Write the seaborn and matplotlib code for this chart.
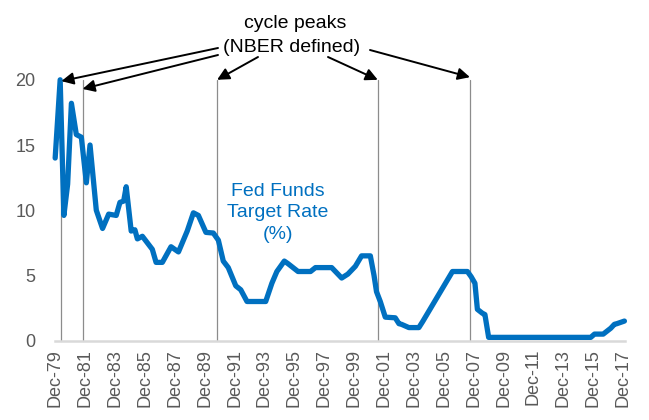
import numpy as np
import pandas as pd
import matplotlib
matplotlib.use('Agg')
import matplotlib.pyplot as plt
import matplotlib.dates as mdates
import seaborn as sns

sns.set_style('white')
plt.rcParams['font.family'] = ['Liberation Sans Narrow', 'Liberation Sans', 'DejaVu Sans']

# Fed funds target rate
fechas = ['1979-12', '1980-04', '1980-07', '1980-10', '1981-01', '1981-05', '1981-09',
          '1982-01', '1982-04', '1982-09', '1983-02', '1983-07', '1984-01', '1984-04',
          '1984-07', '1984-09', '1985-01', '1985-04', '1985-06', '1985-10', '1986-06',
          '1986-09', '1987-02', '1987-09', '1988-03', '1988-10', '1989-03', '1989-07',
          '1990-01', '1990-07', '1990-11', '1991-03', '1991-07', '1992-01', '1992-05',
          '1992-10', '1994-01', '1994-06', '1994-10', '1995-04', '1995-07', '1996-03',
          '1997-01', '1997-05', '1998-06', '1998-09', '1999-02', '1999-07', '2000-01',
          '2000-06', '2001-01', '2001-04', '2001-06', '2001-09', '2002-01', '2002-09',
          '2002-12', '2003-02', '2003-08', '2004-04', '2004-07', '2006-07', '2007-07',
          '2007-10', '2008-01', '2008-03', '2008-07', '2008-09', '2008-12', '2015-10',
          '2016-01', '2016-08', '2017-02', '2017-05', '2017-07', '2018-01']
tasa = [14.0, 20.0, 9.6, 12.0, 18.2, 15.8, 15.6,
        12.1, 15.0, 10.0, 8.6, 9.7, 9.6, 10.6,
        10.7, 11.8, 8.4, 8.5, 7.8, 8.0, 7.0,
        6.0, 6.0, 7.2, 6.8, 8.4, 9.8, 9.6,
        8.3, 8.25, 7.7, 6.1, 5.6, 4.2, 3.9,
        3.0, 3.0, 4.4, 5.3, 6.1, 5.9, 5.3,
        5.3, 5.6, 5.6, 5.3, 4.8, 5.1, 5.7,
        6.5, 6.5, 5.0, 3.75, 3.0, 1.8, 1.75,
        1.3, 1.25, 1.0, 1.0, 1.45, 5.3, 5.3,
        4.9, 4.4, 2.4, 2.1, 2.0, 0.25, 0.25,
        0.5, 0.5, 0.95, 1.25, 1.3, 1.5]

# cycle peak markers, as placed on the chart
picos = ['1980-05', '1981-10', '1990-10', '2001-07', '2007-09']

# x tick labels every two years
marcas = pd.date_range('1979-12-01', '2017-12-01', freq='24MS')

df = pd.DataFrame({'fecha': pd.to_datetime(fechas), 'tasa': tasa})
picos = pd.to_datetime(picos)

azul = '#0070C0'
gris = '#595959'

fig = plt.figure(figsize=(6.49, 4.2), dpi=100)
ax = fig.add_axes([0.085, 0.189, 0.878, 0.621])

for p in picos:
    ax.plot([p, p], [0, 20], color='#8C8C8C', lw=0.9, zorder=1, clip_on=False)

sns.lineplot(data=df, x='fecha', y='tasa', ax=ax, color=azul, lw=3.8, zorder=3)
ax.lines[-1].set_clip_on(False)

ax.set_xlim(pd.Timestamp('1979-12-01'), pd.Timestamp('2018-01-15'))
ax.set_ylim(0, 20)
ax.set_yticks([0, 5, 10, 15, 20])
ax.set_xticks(marcas)
ax.xaxis.set_major_formatter(mdates.DateFormatter('%b-%y'))
ax.tick_params(axis='x', rotation=90, labelsize=13, colors=gris, length=0, pad=6)
ax.tick_params(axis='y', labelsize=13, colors=gris, length=0, pad=14)
ax.set_xlabel('')
ax.set_ylabel('')
sns.despine(ax=ax, left=True)
ax.spines['bottom'].set_color('#D9D9D9')
ax.spines['bottom'].set_linewidth(1.8)

fig.text(0.428, 0.493, 'Fed Funds\nTarget Rate\n(%)', ha='center', va='center',
         color=azul, fontsize=14, linespacing=1.35)

fig.text(0.455, 0.945, 'cycle peaks', ha='center', va='center', fontsize=14, color='black')
fig.text(0.45, 0.887, '(NBER defined)', ha='center', va='center', fontsize=14, color='black')

flecha = dict(arrowstyle='-|>', color='black', lw=1.4, mutation_scale=18, shrinkA=0, shrinkB=0)
colas = [(218, 48), (218, 55), (258, 57), (328, 57), (370, 50)]
puntas = [(picos[0], 19.9), (picos[1], 19.3), (picos[2], 20.0), (picos[3], 20.0), (picos[4], 20.2)]
for (cx, cy), (px, py) in zip(colas, puntas):
    ax.annotate('', xy=(px, py), xycoords='data',
                xytext=(cx, 420 - cy), textcoords='figure pixels',
                arrowprops=flecha, annotation_clip=False)

fig.savefig('out.png', dpi=100)
